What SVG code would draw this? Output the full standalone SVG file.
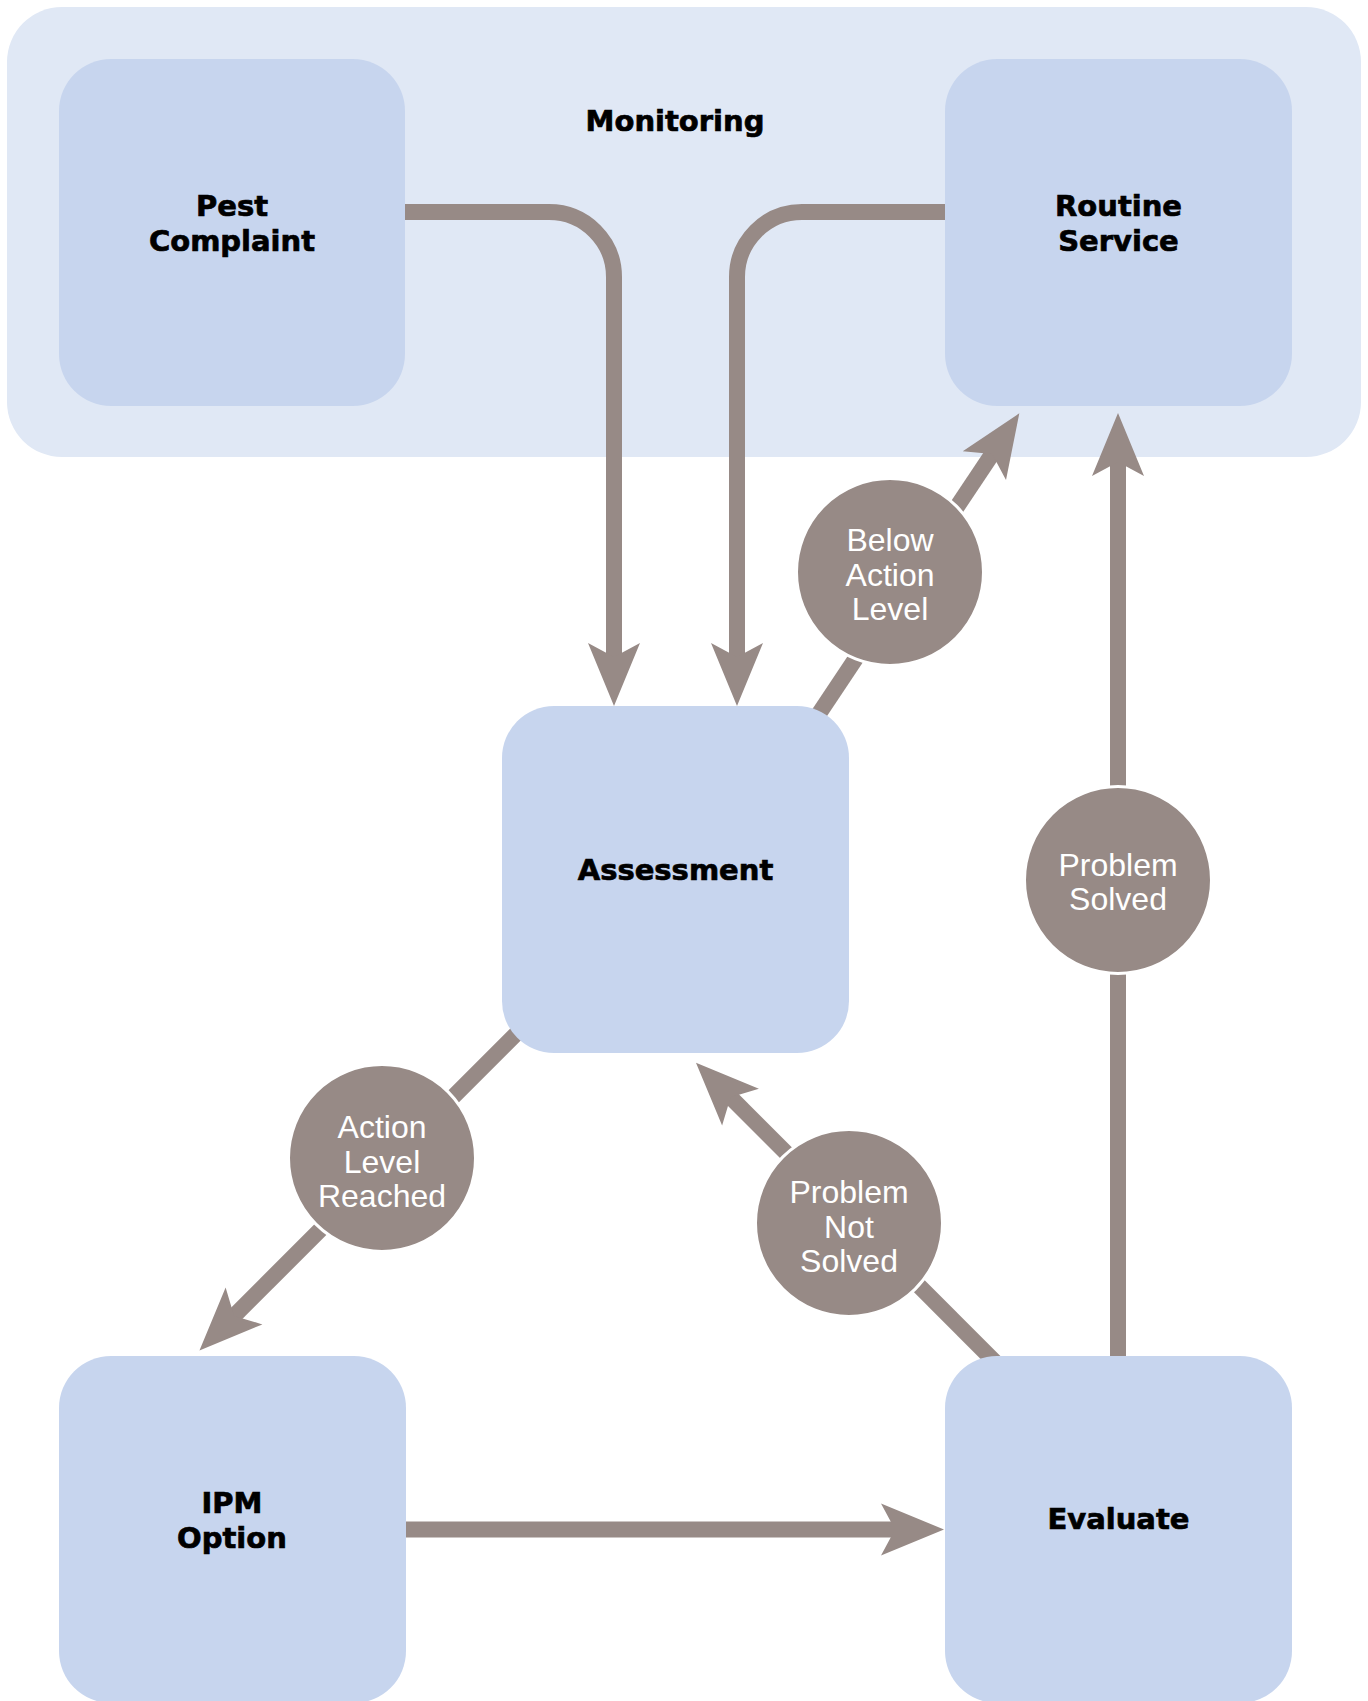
<svg xmlns="http://www.w3.org/2000/svg" width="1368" height="1701" viewBox="0 0 1368 1701">
  <style>
    .box { fill: #c7d5ee; }
    .outer { fill: #e0e8f5; }
    .lbl { font-family: "DejaVu Sans", "Liberation Sans", sans-serif; font-weight: bold; font-size: 29px; fill: #000; stroke: #000; stroke-width: 0.7px; text-anchor: middle; }
    .clbl { font-family: "Liberation Sans", Arial, sans-serif; font-size: 32px; fill: #fff; text-anchor: middle; }
    .dec { fill: #978a86; stroke: #fff; stroke-width: 3; }
    .conn { fill: none; stroke: #978a86; stroke-width: 16; stroke-linecap: butt; }
  </style>
  <defs>
    <marker id="arrow" markerUnits="userSpaceOnUse" markerWidth="140" markerHeight="80" refX="0" refY="0" orient="auto" overflow="visible" viewBox="-70 -40 140 80">
      <path d="M48,0 L-15,-26 L-1,0 L-15,26 Z" fill="#978a86"/>
    </marker>
  </defs>

  <g id="monitoring">
    <rect class="outer" x="7" y="7" width="1354" height="450" rx="55" ry="55"/>
    <text class="lbl" x="675" y="131">Monitoring</text>
  </g>

  <g id="connectors">
    <path class="conn" d="M400,212 H549 A65,65 0 0 1 614,277 V658" marker-end="url(#arrow)"/>
    <path class="conn" d="M950,212 H802 A65,65 0 0 0 737,277 V658" marker-end="url(#arrow)"/>
    <path class="conn" d="M801.4,740 L992.7,453.2" marker-end="url(#arrow)"/>
    <path class="conn" d="M1118,1370 V461" marker-end="url(#arrow)"/>
    <path class="conn" d="M540,1010 L233.4,1316.6" marker-end="url(#arrow)"/>
    <path class="conn" d="M1000,1367 L729.9,1096.6" marker-end="url(#arrow)"/>
    <path class="conn" d="M400,1529.5 H896" marker-end="url(#arrow)"/>
  </g>

  <g id="pest-complaint">
    <rect class="box" x="59" y="59" width="346" height="347" rx="52" ry="52"/>
    <text class="lbl" x="232" y="216">Pest</text>
    <text class="lbl" x="232" y="251">Complaint</text>
  </g>

  <g id="routine-service">
    <rect class="box" x="945" y="59" width="347" height="347" rx="52" ry="52"/>
    <text class="lbl" x="1118.5" y="216">Routine</text>
    <text class="lbl" x="1118.5" y="251">Service</text>
  </g>

  <g id="assessment">
    <rect class="box" x="502" y="706" width="347" height="347" rx="52" ry="52"/>
    <text class="lbl" x="675.5" y="880">Assessment</text>
  </g>

  <g id="ipm-option">
    <rect class="box" x="59" y="1356" width="347" height="347" rx="52" ry="52"/>
    <text class="lbl" x="232" y="1513">IPM</text>
    <text class="lbl" x="232" y="1548">Option</text>
  </g>

  <g id="evaluate">
    <rect class="box" x="945" y="1356" width="347" height="347" rx="52" ry="52"/>
    <text class="lbl" x="1118.5" y="1529">Evaluate</text>
  </g>

  <g id="below-action-level">
    <circle class="dec" cx="890" cy="572" r="93.5"/>
    <text class="clbl" x="890" y="551">Below</text>
    <text class="clbl" x="890" y="586">Action</text>
    <text class="clbl" x="890" y="620">Level</text>
  </g>

  <g id="problem-solved">
    <circle class="dec" cx="1118" cy="880" r="93.5"/>
    <text class="clbl" x="1118" y="876">Problem</text>
    <text class="clbl" x="1118" y="910">Solved</text>
  </g>

  <g id="action-level-reached">
    <circle class="dec" cx="382" cy="1158" r="93.5"/>
    <text class="clbl" x="382" y="1138">Action</text>
    <text class="clbl" x="382" y="1173">Level</text>
    <text class="clbl" x="382" y="1207">Reached</text>
  </g>

  <g id="problem-not-solved">
    <circle class="dec" cx="849" cy="1223" r="93.5"/>
    <text class="clbl" x="849" y="1203">Problem</text>
    <text class="clbl" x="849" y="1238">Not</text>
    <text class="clbl" x="849" y="1272">Solved</text>
  </g>
</svg>
